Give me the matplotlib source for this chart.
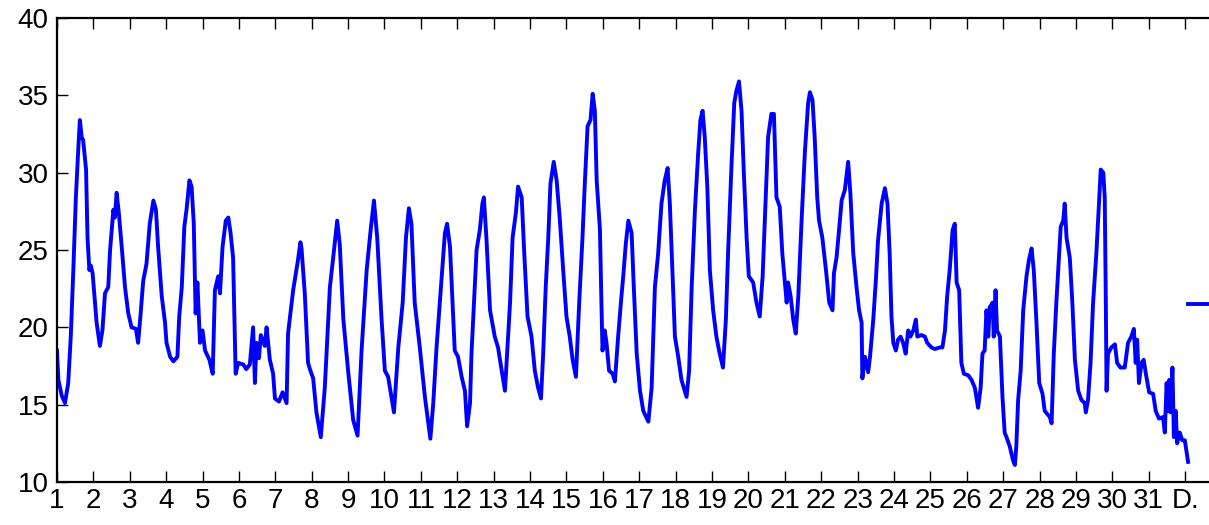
import numpy as np
import matplotlib.pyplot as plt

plt.rcParams['font.family'] = ['Liberation Sans', 'DejaVu Sans']

# time in days (1 = start of day 1) and temperature
day = np.array([
    1.00, 1.04, 1.13, 1.22, 1.31, 1.38, 1.45, 1.52, 1.59, 1.63, 1.68, 1.72, 1.80, 1.84, 1.89, 1.93, 1.98,
    2.04, 2.09, 2.18, 2.25, 2.32, 2.41, 2.46, 2.55, 2.59, 2.64, 2.70, 2.78, 2.87, 2.96,
    3.05, 3.17, 3.23, 3.30, 3.37, 3.46, 3.55, 3.65, 3.72, 3.78, 3.88, 3.97,
    4.01, 4.11, 4.20, 4.31, 4.36, 4.43, 4.50, 4.56, 4.64, 4.70, 4.76, 4.81, 4.86, 4.93,
    5.00, 5.07, 5.19, 5.28, 5.34, 5.43, 5.48, 5.55, 5.64, 5.71, 5.77, 5.84, 5.91, 5.98,
    6.12, 6.20, 6.30, 6.39, 6.44, 6.48, 6.55, 6.60, 6.71, 6.76, 6.85, 6.94, 6.99,
    7.10, 7.20, 7.31, 7.35, 7.49, 7.58, 7.62, 7.69, 7.72, 7.81, 7.90, 7.95,
    8.04, 8.13, 8.25, 8.36, 8.50, 8.59, 8.70, 8.77, 8.87,
    9.00, 9.14, 9.26, 9.37, 9.51, 9.62, 9.71, 9.80, 9.92,
    10.01, 10.10, 10.26, 10.38, 10.50, 10.59, 10.67, 10.74, 10.83, 10.97,
    11.11, 11.26, 11.34, 11.43, 11.52, 11.60, 11.66, 11.72, 11.80, 11.87, 11.93,
    12.02, 12.12, 12.21, 12.27, 12.35, 12.39, 12.46, 12.53, 12.62, 12.69, 12.73, 12.80, 12.90,
    13.03, 13.12, 13.22, 13.31, 13.37, 13.45, 13.52, 13.61, 13.67, 13.77, 13.84, 13.93,
    14.04, 14.13, 14.22, 14.30, 14.36, 14.43, 14.50, 14.56, 14.65, 14.73, 14.82, 14.91,
    15.00, 15.09, 15.17, 15.26, 15.35, 15.44, 15.50, 15.58, 15.66, 15.72, 15.78, 15.83, 15.92, 15.96, 15.99,
    16.05, 16.10, 16.17, 16.27, 16.33, 16.42, 16.51, 16.56, 16.63, 16.70, 16.79, 16.85, 16.93,
    17.02, 17.11, 17.25, 17.34, 17.43, 17.52, 17.61, 17.70, 17.78, 17.84, 17.91, 17.98,
    18.07, 18.16, 18.30, 18.37, 18.44, 18.53, 18.62, 18.68, 18.74, 18.80, 18.87, 18.94,
    19.03, 19.12, 19.21, 19.30, 19.38, 19.44, 19.53, 19.61, 19.67, 19.74, 19.81, 19.87, 19.95,
    20.01, 20.13, 20.22, 20.31, 20.39, 20.45, 20.54, 20.63, 20.70, 20.77, 20.86, 20.93,
    21.00, 21.05, 21.09, 21.16, 21.23, 21.30, 21.37, 21.46, 21.55, 21.64, 21.69, 21.76, 21.82, 21.89, 21.94,
    22.03, 22.13, 22.22, 22.31, 22.35, 22.42, 22.49, 22.56, 22.65, 22.74, 22.80, 22.88, 22.97,
    23.04, 23.11, 23.13, 23.20, 23.29, 23.34, 23.43, 23.50, 23.56, 23.66, 23.75, 23.82, 23.88, 23.93, 23.98,
    24.05, 24.11, 24.18, 24.25, 24.32, 24.39, 24.45, 24.53, 24.60, 24.64, 24.75, 24.85, 24.91,
    25.03, 25.12, 25.26, 25.33, 25.40, 25.46, 25.53, 25.61, 25.67, 25.72, 25.79, 25.85, 25.92,
    26.04, 26.13, 26.22, 26.31, 26.38, 26.43, 26.49, 26.54, 26.59, 26.63, 26.71, 26.74, 26.79, 26.83, 26.91, 26.98,
    27.04, 27.09, 27.18, 27.27, 27.32, 27.36, 27.41, 27.48, 27.55, 27.64, 27.71, 27.78, 27.84, 27.91, 27.99,
    28.08, 28.14, 28.28, 28.33, 28.39, 28.46, 28.54, 28.58, 28.65, 28.69, 28.74, 28.83, 28.90, 28.97,
    29.06, 29.15, 29.24, 29.27, 29.33, 29.40, 29.47, 29.56, 29.64, 29.68, 29.75, 29.79, 29.82, 29.84, 29.88, 29.97,
    30.07, 30.13, 30.22, 30.34, 30.43, 30.52, 30.59, 30.64, 30.68, 30.73, 30.80, 30.86, 30.92,
    31.01, 31.12, 31.19, 31.28, 31.39, 31.44, 31.49, 31.53, 31.56, 31.60, 31.65, 31.69, 31.74, 31.78, 31.85, 31.92, 31.99,
    32.08])

temp = np.array([
    18.5, 16.6, 15.6, 15.1, 16.4, 19.4, 23.7, 28.4, 31.7, 33.4, 32.3, 32.1, 30.2, 25.8, 23.7, 24.0, 23.5,
    21.8, 20.3, 18.8, 19.8, 22.2, 22.6, 25.0, 27.6, 27.1, 28.7, 27.4, 25.2, 22.6, 20.9,
    20.0, 19.9, 19.0, 20.9, 23.0, 24.1, 26.7, 28.2, 27.6, 25.2, 22.0, 20.3,
    19.0, 18.1, 17.8, 18.1, 20.7, 22.6, 26.5, 27.6, 29.5, 29.1, 26.7, 20.9, 22.9, 19.0,
    19.8, 18.5, 17.9, 17.0, 22.4, 23.3, 22.2, 25.2, 26.9, 27.1, 26.1, 24.5, 17.0, 17.7,
    17.6, 17.3, 17.6, 20.0, 16.4, 19.0, 18.0, 19.5, 18.8, 20.0, 17.9, 17.0, 15.4,
    15.2, 15.8, 15.1, 19.6, 22.4, 23.7, 24.3, 25.5, 25.1, 22.2, 17.7, 17.3,
    16.7, 14.5, 12.9, 16.1, 22.6, 24.5, 26.9, 25.4, 20.5,
    17.2, 14.0, 13.0, 18.5, 23.7, 26.3, 28.2, 25.8, 20.5,
    17.2, 16.8, 14.5, 18.7, 21.6, 25.8, 27.7, 26.7, 21.6, 18.7,
    15.5, 12.8, 15.1, 18.7, 21.6, 24.1, 26.1, 26.7, 25.2, 21.6, 18.5,
    18.1, 16.8, 15.9, 13.6, 15.1, 18.3, 21.6, 25.0, 26.3, 28.0, 28.4, 25.8, 21.1,
    19.4, 18.7, 17.2, 15.9, 18.3, 21.6, 25.8, 27.4, 29.1, 28.4, 24.8, 20.7,
    19.4, 17.2, 16.1, 15.4, 18.3, 22.6, 25.8, 29.3, 30.7, 29.5, 26.9, 23.7,
    20.7, 19.4, 17.9, 16.8, 21.6, 25.8, 29.1, 33.0, 33.4, 35.1, 34.0, 29.5, 26.3, 21.6, 18.5,
    19.8, 19.0, 17.2, 17.0, 16.5, 19.4, 22.0, 23.3, 25.4, 26.9, 26.1, 22.6, 18.3,
    15.9, 14.6, 13.9, 16.1, 22.6, 24.8, 28.0, 29.5, 30.3, 28.0, 23.7, 19.4,
    18.1, 16.6, 15.5, 17.2, 22.6, 27.6, 31.3, 33.4, 34.0, 32.3, 29.1, 23.7,
    21.1, 19.4, 18.3, 17.4, 20.5, 24.8, 30.2, 34.5, 35.3, 35.9, 34.0, 30.2, 25.8,
    23.3, 22.9, 21.6, 20.7, 23.3, 26.9, 32.3, 33.8, 33.8, 28.4, 27.8, 24.8,
    22.9, 21.6, 22.9, 22.0, 20.5, 19.6, 22.0, 26.9, 31.3, 34.5, 35.2, 34.7, 32.3, 28.4, 26.9,
    25.8, 23.7, 21.6, 21.1, 23.5, 24.5, 26.3, 28.2, 28.9, 30.7, 28.7, 24.8, 22.6,
    21.1, 20.3, 16.7, 18.1, 17.1, 18.1, 20.5, 23.0, 25.6, 28.0, 29.0, 28.0, 24.8, 20.7, 19.0,
    18.5, 19.2, 19.4, 19.0, 18.3, 19.8, 19.4, 19.8, 20.5, 19.4, 19.5, 19.4, 19.0,
    18.7, 18.6, 18.7, 18.7, 19.8, 22.0, 23.7, 26.3, 26.7, 22.9, 22.4, 17.7, 17.0,
    16.9, 16.6, 16.1, 14.8, 16.1, 18.3, 18.5, 21.1, 19.4, 21.3, 21.6, 19.4, 22.4, 19.8, 19.4, 15.5,
    13.2, 12.9, 12.3, 11.4, 11.1, 12.3, 15.3, 17.2, 21.1, 23.3, 24.4, 25.1, 23.7, 20.5, 16.4,
    15.7, 14.6, 14.2, 13.8, 18.3, 21.6, 24.8, 26.5, 26.9, 28.0, 25.8, 24.5, 21.6, 17.9,
    15.9, 15.3, 15.1, 14.5, 15.3, 17.7, 21.6, 24.8, 28.4, 30.2, 30.0, 28.4, 21.6, 15.9, 18.3, 18.7,
    18.9, 17.7, 17.4, 17.4, 19.0, 19.4, 19.9, 17.7, 19.2, 16.4, 17.7, 17.9, 17.0,
    15.8, 15.7, 14.6, 14.1, 14.2, 13.2, 16.4, 14.6, 16.6, 14.5, 17.4, 12.9, 14.6, 12.5, 13.2, 12.7, 12.7,
    11.3])

xticks = np.arange(1, 33)
xlabels = [str(d) for d in range(1, 32)] + ['D.']
yticks = [10, 15, 20, 25, 30, 35, 40]

fig = plt.figure(figsize=(12.09, 5.25), dpi=100)
# axes runs past the right edge of the picture, as in the original crop
ax = fig.add_axes([0.0471, 0.0819, 0.9934, 0.8838])

line, = ax.plot(day, temp, color=(0, 0, 1), lw=2.8, label=' ')

ax.set_xlim(1, 34)
ax.set_ylim(10, 40)
ax.set_xticks(xticks)
ax.set_xticklabels(xlabels)
ax.set_yticks(yticks)
ax.tick_params(direction='in', length=8, width=1.0, labelsize=20, top=True, right=False)
ax.tick_params(axis='x', pad=4)
ax.tick_params(axis='y', pad=6)
for s in ax.spines.values():
    s.set_linewidth(1.6)

# legend sample sticking in from the right edge, its text is outside the frame
fig.legend(handles=[line], labels=[' '], loc='center left',
           bbox_to_anchor=(1188 / 1209, (525 - 306) / 525), frameon=False,
           borderpad=0, borderaxespad=0, handlelength=2.0, fontsize=18)

fig.savefig('out.png', dpi=100)
